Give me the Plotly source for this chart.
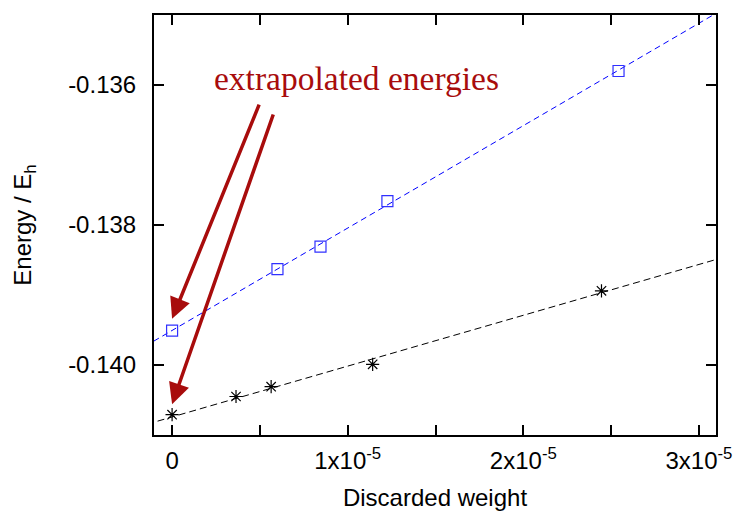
import numpy as np
import plotly.graph_objects as go

# Data
blue_x = [0.0, 6.0e-6, 8.45e-6, 1.226e-5, 2.542e-5]
blue_y = [-0.13951, -0.13863, -0.13831, -0.13766, -0.13580]
black_x = [0.0, 3.64e-6, 5.64e-6, 1.142e-5, 2.445e-5]
black_y = [-0.14071, -0.14045, -0.14031, -0.13999, -0.13894]

x_ticks = [0, 5e-6, 1e-5, 1.5e-5, 2e-5, 2.5e-5, 3e-5]
x_ticktext = ["0", "", "1x10<sup>-5</sup>", "", "2x10<sup>-5</sup>", "", "3x10<sup>-5</sup>"]
y_ticks = [-0.140, -0.138, -0.136]
y_ticktext = ["-0.140", "-0.138", "-0.136"]

x_range = [-1.03e-6, 3.097e-5]
y_range = [-0.141, -0.135]

RED = "#a80c0c"

# linear fits (excluding the extrapolated point at x = 0)
bfit = np.polyfit(blue_x[1:], blue_y[1:], 1)
kfit = np.polyfit(black_x[1:], black_y[1:], 1)
xl = np.array([x_range[0] - 1e-6, x_range[1] + 1e-6])

fig = go.Figure()
fig.add_trace(go.Scatter(x=xl, y=np.polyval(bfit, xl), mode="lines",
                         line=dict(color="#0000ff", width=1, dash="6px,4px"),
                         showlegend=False, hoverinfo="skip"))
fig.add_trace(go.Scatter(x=xl, y=np.polyval(kfit, xl), mode="lines",
                         line=dict(color="black", width=1, dash="7px,4px"),
                         showlegend=False, hoverinfo="skip"))
fig.add_trace(go.Scatter(x=blue_x, y=blue_y, mode="markers",
                         marker=dict(symbol="square-open", size=11, color="#3030ff",
                                     line=dict(width=1.2, color="#3030ff")),
                         showlegend=False))
fig.add_trace(go.Scatter(x=black_x, y=black_y, mode="markers",
                         marker=dict(symbol="asterisk-open", size=11, color="black",
                                     line=dict(width=1.2, color="black")),
                         showlegend=False))

# arrows: (tail x, tail y, tip x, tip y)
arrow_tails = [(4.99e-6, -0.13626), (5.79e-6, -0.13640)]
arrow_tips = [(0.0, blue_y[0] + 0.00017), (0.0, black_y[0] + 0.00015)]
for (tx, ty), (hx, hy) in zip(arrow_tails, arrow_tips):
    fig.add_annotation(x=hx, y=hy, ax=tx, ay=ty, xref="x", yref="y",
                       axref="x", ayref="y", text="", showarrow=True,
                       arrowhead=2, arrowsize=1.2, arrowwidth=3.5,
                       arrowcolor=RED, standoff=0)

fig.add_annotation(x=1.05e-5, y=-0.135914, xref="x", yref="y",
                   text="extrapolated energies", showarrow=False,
                   font=dict(family="Liberation Serif", size=33.5, color=RED),
                   xanchor="center", yanchor="middle")

axis_common = dict(showline=True, linewidth=2, linecolor="black", mirror="ticks",
                   ticks="inside", ticklen=10, tickwidth=1.5, tickcolor="black",
                   showgrid=False, zeroline=False, automargin=False,
                   tickfont=dict(family="Liberation Sans", size=24, color="black"))

fig.update_layout(
    width=735, height=511,
    margin=dict(l=153.5, r=19, t=15, b=76),
    paper_bgcolor="white", plot_bgcolor="white",
    xaxis=dict(range=x_range, tickmode="array", tickvals=x_ticks, ticktext=x_ticktext,
               ticklabelstandoff=3,
               title=dict(text="Discarded weight", standoff=19,
                          font=dict(family="Liberation Sans", size=24, color="black")),
               **axis_common),
    yaxis=dict(range=y_range, tickmode="array", tickvals=y_ticks, ticktext=y_ticktext,
               ticklabelstandoff=11,
               title=dict(text="Energy / E<sub>h</sub>", standoff=30,
                          font=dict(family="Liberation Sans", size=24, color="black")),
               **axis_common),
)

fig.write_html("out.html")
